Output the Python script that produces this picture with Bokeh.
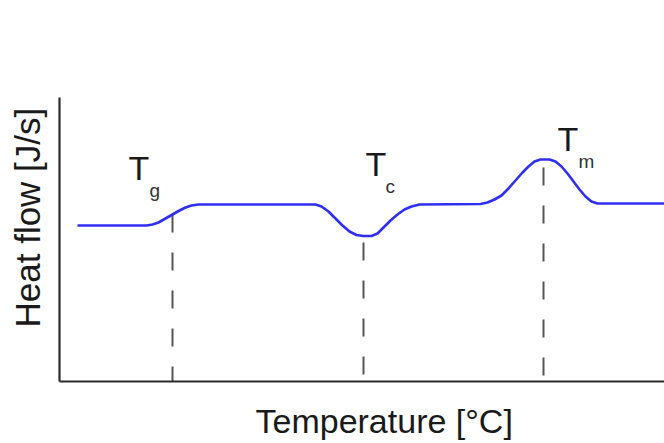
from bokeh.plotting import figure
from bokeh.models import Range1d, Label, FixedTicker, Title
from bokeh.embed import file_html
from bokeh.resources import INLINE

# DSC curve, arbitrary units (temperature, heat flow)
temperature = [18, 87, 93, 99, 106, 113, 120, 126, 132, 139,
               256, 262, 269, 276, 283, 290, 297, 304, 312, 318,
               324, 331, 338, 345, 352, 360,
               421, 428, 435, 442, 449, 456, 463, 469, 475, 481,
               490, 496, 502, 508, 514, 520, 526, 532, 538, 605]
heat_flow = [156, 156, 157, 159, 163, 167, 171, 174, 176, 177,
             177, 175, 170, 163, 156, 150, 146.5, 145.5, 145.5, 148,
             154, 161, 167, 172, 175, 177,
             177.5, 179, 182, 186, 193, 201, 209, 215, 220, 222,
             222, 220, 215, 208, 200, 192, 185, 180, 178, 178]

# transition temperatures and where their dashed markers start
transition_names = ["g", "c", "m"]
transition_temp = [113, 304, 484]
marker_top = [167, 139, 214]
marker_bottom = [0, 0, 0]

# label anchors (data units)
label_T_x = [69, 306, 498]
label_T_y = [214, 218, 243]
label_sub_x = [90, 326, 519]
label_sub_y = [191, 195, 220]

x_title = "Temperature [°C]"
y_title = "Heat flow [J/s]"

FONT = "Liberation Sans"
TXT = "#1a1a1a"

p = figure(width=664, height=443, output_backend="svg", toolbar_location=None,
           x_range=Range1d(0, 605), y_range=Range1d(0, 284),
           min_border_left=59, min_border_right=0, min_border_top=97,
           min_border_bottom=62)
p.background_fill_color = "white"
p.border_fill_color = "white"
p.outline_line_color = None
p.grid.grid_line_color = None
for ax in p.axis:
    ax.ticker = FixedTicker(ticks=[])
    ax.major_tick_line_color = None
    ax.minor_tick_line_color = None
    ax.major_label_text_font_size = "0px"
    ax.axis_line_color = "#2b2b2b"
    ax.axis_line_width = 2.2

p.segment(x0=transition_temp, y0=marker_top, x1=transition_temp, y1=marker_bottom,
          line_color="#555555", line_width=2, line_dash="18 20")

p.line(temperature, heat_flow, line_color="#2f2ff2", line_width=2.6,
       line_join="round")

for i in range(3):
    p.add_layout(Label(x=label_T_x[i], y=label_T_y[i], text="T",
                       text_font=FONT, text_font_size="34px", text_color=TXT,
                       text_baseline="alphabetic", text_align="left"))
    p.add_layout(Label(x=label_sub_x[i], y=label_sub_y[i], text=transition_names[i],
                       text_font=FONT, text_font_size="19px", text_color="#333333",
                       text_baseline="alphabetic", text_align="left"))

p.add_layout(Title(text=x_title, align="left", offset=196, standoff=0,
                   padding=dict(top=18, right=0, bottom=0, left=0),
                   text_font=FONT, text_font_size="34px", text_font_style="normal",
                   text_color=TXT), "below")
p.add_layout(Title(text=y_title, align="left", offset=54, standoff=0,
                   padding=dict(top=0, right=0, bottom=13, left=0),
                   text_font=FONT, text_font_size="35px", text_font_style="normal",
                   text_color=TXT), "left")

open("out.html", "w").write(file_html(p, INLINE))
